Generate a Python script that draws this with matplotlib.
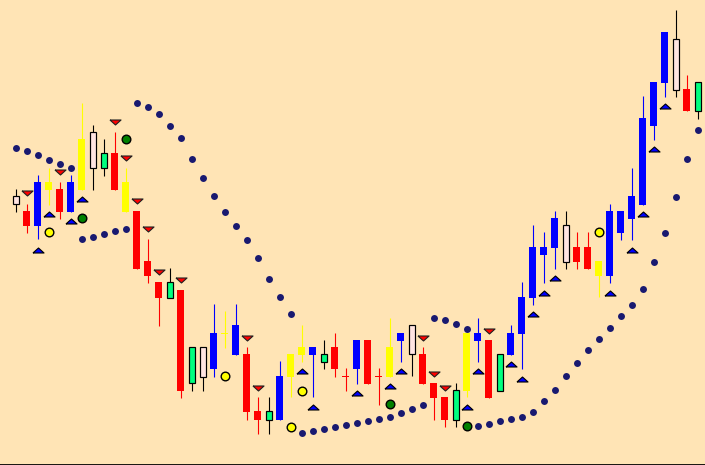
import matplotlib
matplotlib.use("Agg")
import matplotlib.pyplot as plt
import numpy as np

# ---- data (arbitrary price units) ----
kinds = ["white", "red", "blue", "yellow", "red", "blue", "yellow", "white", "green", "red",
         "yellow", "red", "red", "red", "green", "red", "green", "white", "blue", "yellow",
         "blue", "red", "red", "green", "blue", "yellow", "yellow", "blue", "green", "red",
         "red", "blue", "red", "red", "yellow", "blue", "white", "red", "red", "red",
         "green", "yellow", "blue", "red", "green", "blue", "blue", "blue", "blue", "blue",
         "white", "red", "red", "yellow", "blue", "blue", "blue", "blue", "blue", "blue",
         "white", "red", "green"]
open_ = [261, 254, 239, 275, 276, 253, 275, 297, 312, 312,
         253, 254, 204, 183, 183, 175, 118, 88, 96, 132,
         110, 111, 54, 54, 45, 88, 110, 110, 111, 118,
         89, 96, 125, 89, 88, 124, 111, 111, 82, 68,
         75, 74, 124, 125, 111, 110, 131, 167, 210, 217,
         203, 218, 218, 189, 189, 232, 246, 260, 339, 382,
         375, 376, 383]
high = [276, 261, 290, 297, 283, 290, 362, 340, 326, 333,
        297, 254, 226, 183, 197, 175, 118, 118, 161, 154,
        161, 118, 68, 68, 104, 111, 140, 118, 125, 132,
        97, 125, 125, 97, 147, 132, 140, 118, 82, 68,
        82, 132, 147, 125, 111, 140, 183, 240, 233, 254,
        254, 233, 233, 204, 261, 254, 297, 369, 383, 433,
        455, 390, 383]
low = [253, 232, 226, 260, 246, 253, 275, 275, 289, 275,
       253, 196, 182, 139, 167, 67, 74, 74, 88, 117,
       110, 45, 31, 31, 45, 68, 103, 68, 96, 88,
       74, 81, 81, 60, 88, 103, 89, 81, 45, 38,
       38, 68, 103, 67, 74, 110, 96, 160, 182, 196,
       196, 196, 196, 168, 182, 225, 225, 260, 325, 368,
       368, 354, 346]
close = [269, 239, 283, 283, 253, 283, 326, 333, 297, 275,
         283, 196, 189, 167, 167, 74, 82, 118, 132, 132,
         140, 53, 45, 45, 89, 111, 118, 118, 103, 96,
         89, 125, 81, 89, 118, 132, 140, 81, 67, 45,
         45, 132, 132, 67, 74, 132, 168, 218, 218, 247,
         240, 203, 196, 204, 254, 254, 269, 347, 383, 433,
         426, 354, 354]
sar = [317.3, 314.3, 310.3, 305.3, 301.3, 297.3, 226.3, 228.3, 231.3, 234.3,
       236.3, 362.0, 358.0, 351.0, 339.0, 327.0, 306.0, 287.0, 269.0, 253.0,
       239.0, 225.0, 207.0, 186.0, 168.0, 151.0, 32.0, 34.3, 36.3, 38.3,
       40.3, 42.3, 44.3, 46.3, 48.3, 52.3, 56.3, 60.3, 147.0, 145.0,
       141.3, 136.3, 39.3, 41.3, 44.3, 46.3, 48.3, 53.3, 64.3, 75.3,
       89.3, 102.3, 115.3, 126.3, 137.0, 149.3, 160.3, 176.3, 203.3, 232.3,
       268.3, 306.3, 335.3]
buy_idx = [2, 3, 5, 6, 26, 27, 31, 34, 35, 41, 42, 45, 46, 47, 48, 49, 54, 56, 57, 58, 59]
buy_val = [215, 251, 244, 266, 94.5, 58.5, 72.5, 79.5, 94.5, 58.5, 94.5, 101.5, 86.5,
           151.5, 172, 187, 172, 215, 251, 316, 359]
sell_idx = [1, 4, 9, 10, 11, 12, 13, 15, 21, 22, 37, 38, 39, 43]
sell_val = [272, 293, 343, 307, 264, 236, 192.5, 185.5, 127.5, 77.5, 127.5, 91.5, 77.5, 134.5]
yel_idx = [3, 19, 25, 26, 53]
yel_val = [232.7, 89, 38.5, 74.5, 232.5]
grn_idx = [6, 10, 34, 41]
grn_val = [246.7, 325.7, 60.7, 38.7]

# ---- styles ----
BG = "#FFE4B5"
fills = {"white": "#FFE4E1", "green": "#00FF7F", "red": "#FF0000",
         "blue": "#0000FF", "yellow": "#FFFF00"}
edged = {"white", "green"}

fig = plt.figure(figsize=(7.05, 4.65), dpi=100, facecolor=BG)
ax = fig.add_axes([0, 0, 1, 1], facecolor=BG)

n = len(kinds)
x = np.arange(n)
px = 72 / 100.0  # one pixel in points

# SAR dots
ax.plot(x, sar, "o", color="#191970", ms=5, mec="none", zorder=2)

# candles
for i in range(n):
    k = kinds[i]
    wc = "black" if k in edged else fills[k]
    ax.vlines(x[i], low[i], high[i], color=wc, lw=1.1 * px, zorder=3)
    lo = min(open_[i], close[i])
    h = abs(close[i] - open_[i])
    if h < 1:
        lo -= 0.5
        h = 1
    if k in edged:
        ax.bar(x[i], h, bottom=lo, width=6 / 11, color=fills[k], edgecolor="black",
               linewidth=1.2 * px, zorder=4)
    else:
        ax.bar(x[i], h, bottom=lo, width=7 / 11, color=fills[k], edgecolor="none",
               linewidth=0, zorder=4)

up_tri = [(-1, -0.45), (1, -0.45), (0, 0.45), (-1, -0.45)]
dn_tri = [(-1, 0.45), (1, 0.45), (0, -0.45), (-1, 0.45)]
ax.plot(buy_idx, buy_val, linestyle="none", marker=up_tri, ms=8, mfc="#0000FF",
        mec="black", mew=0.8, zorder=5)
ax.plot(sell_idx, sell_val, linestyle="none", marker=dn_tri, ms=8, mfc="#FF0000",
        mec="#202020", mew=0.8, zorder=5)
ax.plot(yel_idx, yel_val, "o", ms=6.2, mfc="#FFFF00", mec="black", mew=1.0, zorder=6)
ax.plot(grn_idx, grn_val, "o", ms=6.2, mfc="#008000", mec="black", mew=1.0, zorder=6)

ax.set_xlim(-15.5 / 11, (705 - 15.5) / 11)
ax.set_ylim(0, 465)
ax.set_xticks([])
ax.set_yticks([])
for s in ["top", "left", "right"]:
    ax.spines[s].set_visible(False)
ax.spines["bottom"].set_color("black")
ax.spines["bottom"].set_linewidth(2)

fig.savefig("out.png", dpi=100, facecolor=BG)
